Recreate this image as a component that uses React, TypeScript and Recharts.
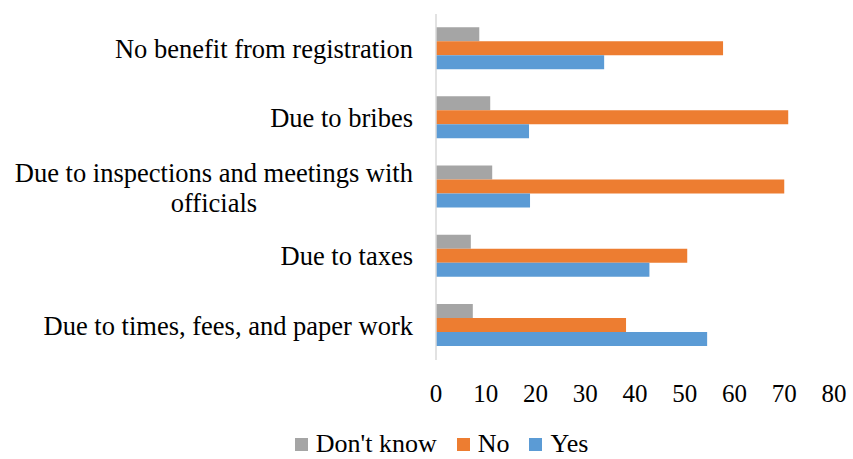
import React from "react";
import { BarChart, Bar, XAxis, YAxis, Legend } from "recharts";

const categories = [
  "No benefit from registration",
  "Due to bribes",
  "Due to inspections and meetings with officials",
  "Due to taxes",
  "Due to times, fees, and paper work",
];
const dontKnow = [8.7, 10.9, 11.3, 7.0, 7.4];
const no = [57.7, 70.8, 70.0, 50.5, 38.2];
const yes = [33.8, 18.7, 18.9, 42.9, 54.5];
const xTicks = [0, 10, 20, 30, 40, 50, 60, 70, 80];

const SERIES = [
  { key: "dontKnow", name: "Don't know", color: "#A5A5A5" },
  { key: "no", name: "No", color: "#ED7D31" },
  { key: "yes", name: "Yes", color: "#5B9BD5" },
];

const FONT = '"Liberation Serif", "Times New Roman", serif';
const LABEL_SIZE = 26.5;

const data = categories.map((name, i) => ({
  name,
  dontKnow: dontKnow[i],
  no: no[i],
  yes: yes[i],
}));

// split long labels the way the source wraps them
function wrap(text: string, maxChars: number) {
  const lines: string[] = [];
  let cur = "";
  text.split(" ").forEach((w) => {
    const next = cur ? cur + " " + w : w;
    if (next.length > maxChars && cur) {
      lines.push(cur);
      cur = w;
    } else cur = next;
  });
  if (cur) lines.push(cur);
  return lines;
}

let ctx: CanvasRenderingContext2D | null = null;
function measure(s: string) {
  if (typeof document !== "undefined") {
    if (!ctx) ctx = document.createElement("canvas").getContext("2d");
    if (ctx) {
      ctx.font = `${LABEL_SIZE}px ${FONT}`;
      return ctx.measureText(s).width;
    }
  }
  return s.length * 0.42 * LABEL_SIZE;
}

function CategoryTick(props: any) {
  const { x, y, payload } = props;
  const lines = wrap(String(payload.value), 38);
  const style = { fontFamily: FONT, fontSize: LABEL_SIZE, fill: "#000" };
  if (lines.length === 1) {
    return (
      <text x={x} y={y} dy={0.35 * LABEL_SIZE} textAnchor="end" style={style}>
        {lines[0]}
      </text>
    );
  }
  const w = Math.max(...lines.map(measure));
  const cx = x - w / 2;
  return (
    <text textAnchor="middle" style={style}>
      {lines.map((l, i) => (
        <tspan key={i} x={cx} y={y + 0.35 * LABEL_SIZE - 14 + i * 30}>
          {l}
        </tspan>
      ))}
    </text>
  );
}

function renderLegend() {
  return (
    <div
      style={{
        display: "flex",
        justifyContent: "center",
        alignItems: "center",
        height: 30,
        lineHeight: "30px",
        paddingLeft: 49,
        fontFamily: FONT,
        fontSize: 26,
        color: "#000",
      }}
    >
      {SERIES.map((s, i) => (
        <div key={s.key} style={{ display: "flex", alignItems: "center", marginLeft: i ? 20 : 0 }}>
          <span style={{ width: 13, height: 13, background: s.color, display: "inline-block", marginRight: 8 }} />
          <span>{s.name}</span>
        </div>
      ))}
    </div>
  );
}

export default function App() {
  return (
    <div style={{ width: 853, height: 459, fontFamily: FONT, background: "#fff" }}>
      <style>{"body{margin:0}"}</style>
      <BarChart
        width={853}
        height={459}
        data={data}
        layout="vertical"
        margin={{ top: 14, right: 19, left: 0, bottom: 0 }}
        barCategoryGap="19%"
        barGap={0}
      >
        <XAxis
          type="number"
          domain={[0, 80]}
          ticks={xTicks}
          axisLine={false}
          tickLine={false}
          tickSize={0}
          tickMargin={24}
          height={69}
          tick={{ fill: "#000", fontSize: 25, fontFamily: FONT }}
        />
        <YAxis
          type="category"
          dataKey="name"
          width={436}
          interval={0}
          tickLine={false}
          tickSize={0}
          tickMargin={23}
          axisLine={{ stroke: "#D9D9D9", strokeWidth: 1.5 }}
          tick={<CategoryTick />}
        />
        <Legend verticalAlign="bottom" height={30} content={renderLegend} />
        {SERIES.map((s) => (
          <Bar key={s.key} dataKey={s.key} name={s.name} fill={s.color} isAnimationActive={false} />
        ))}
      </BarChart>
    </div>
  );
}
